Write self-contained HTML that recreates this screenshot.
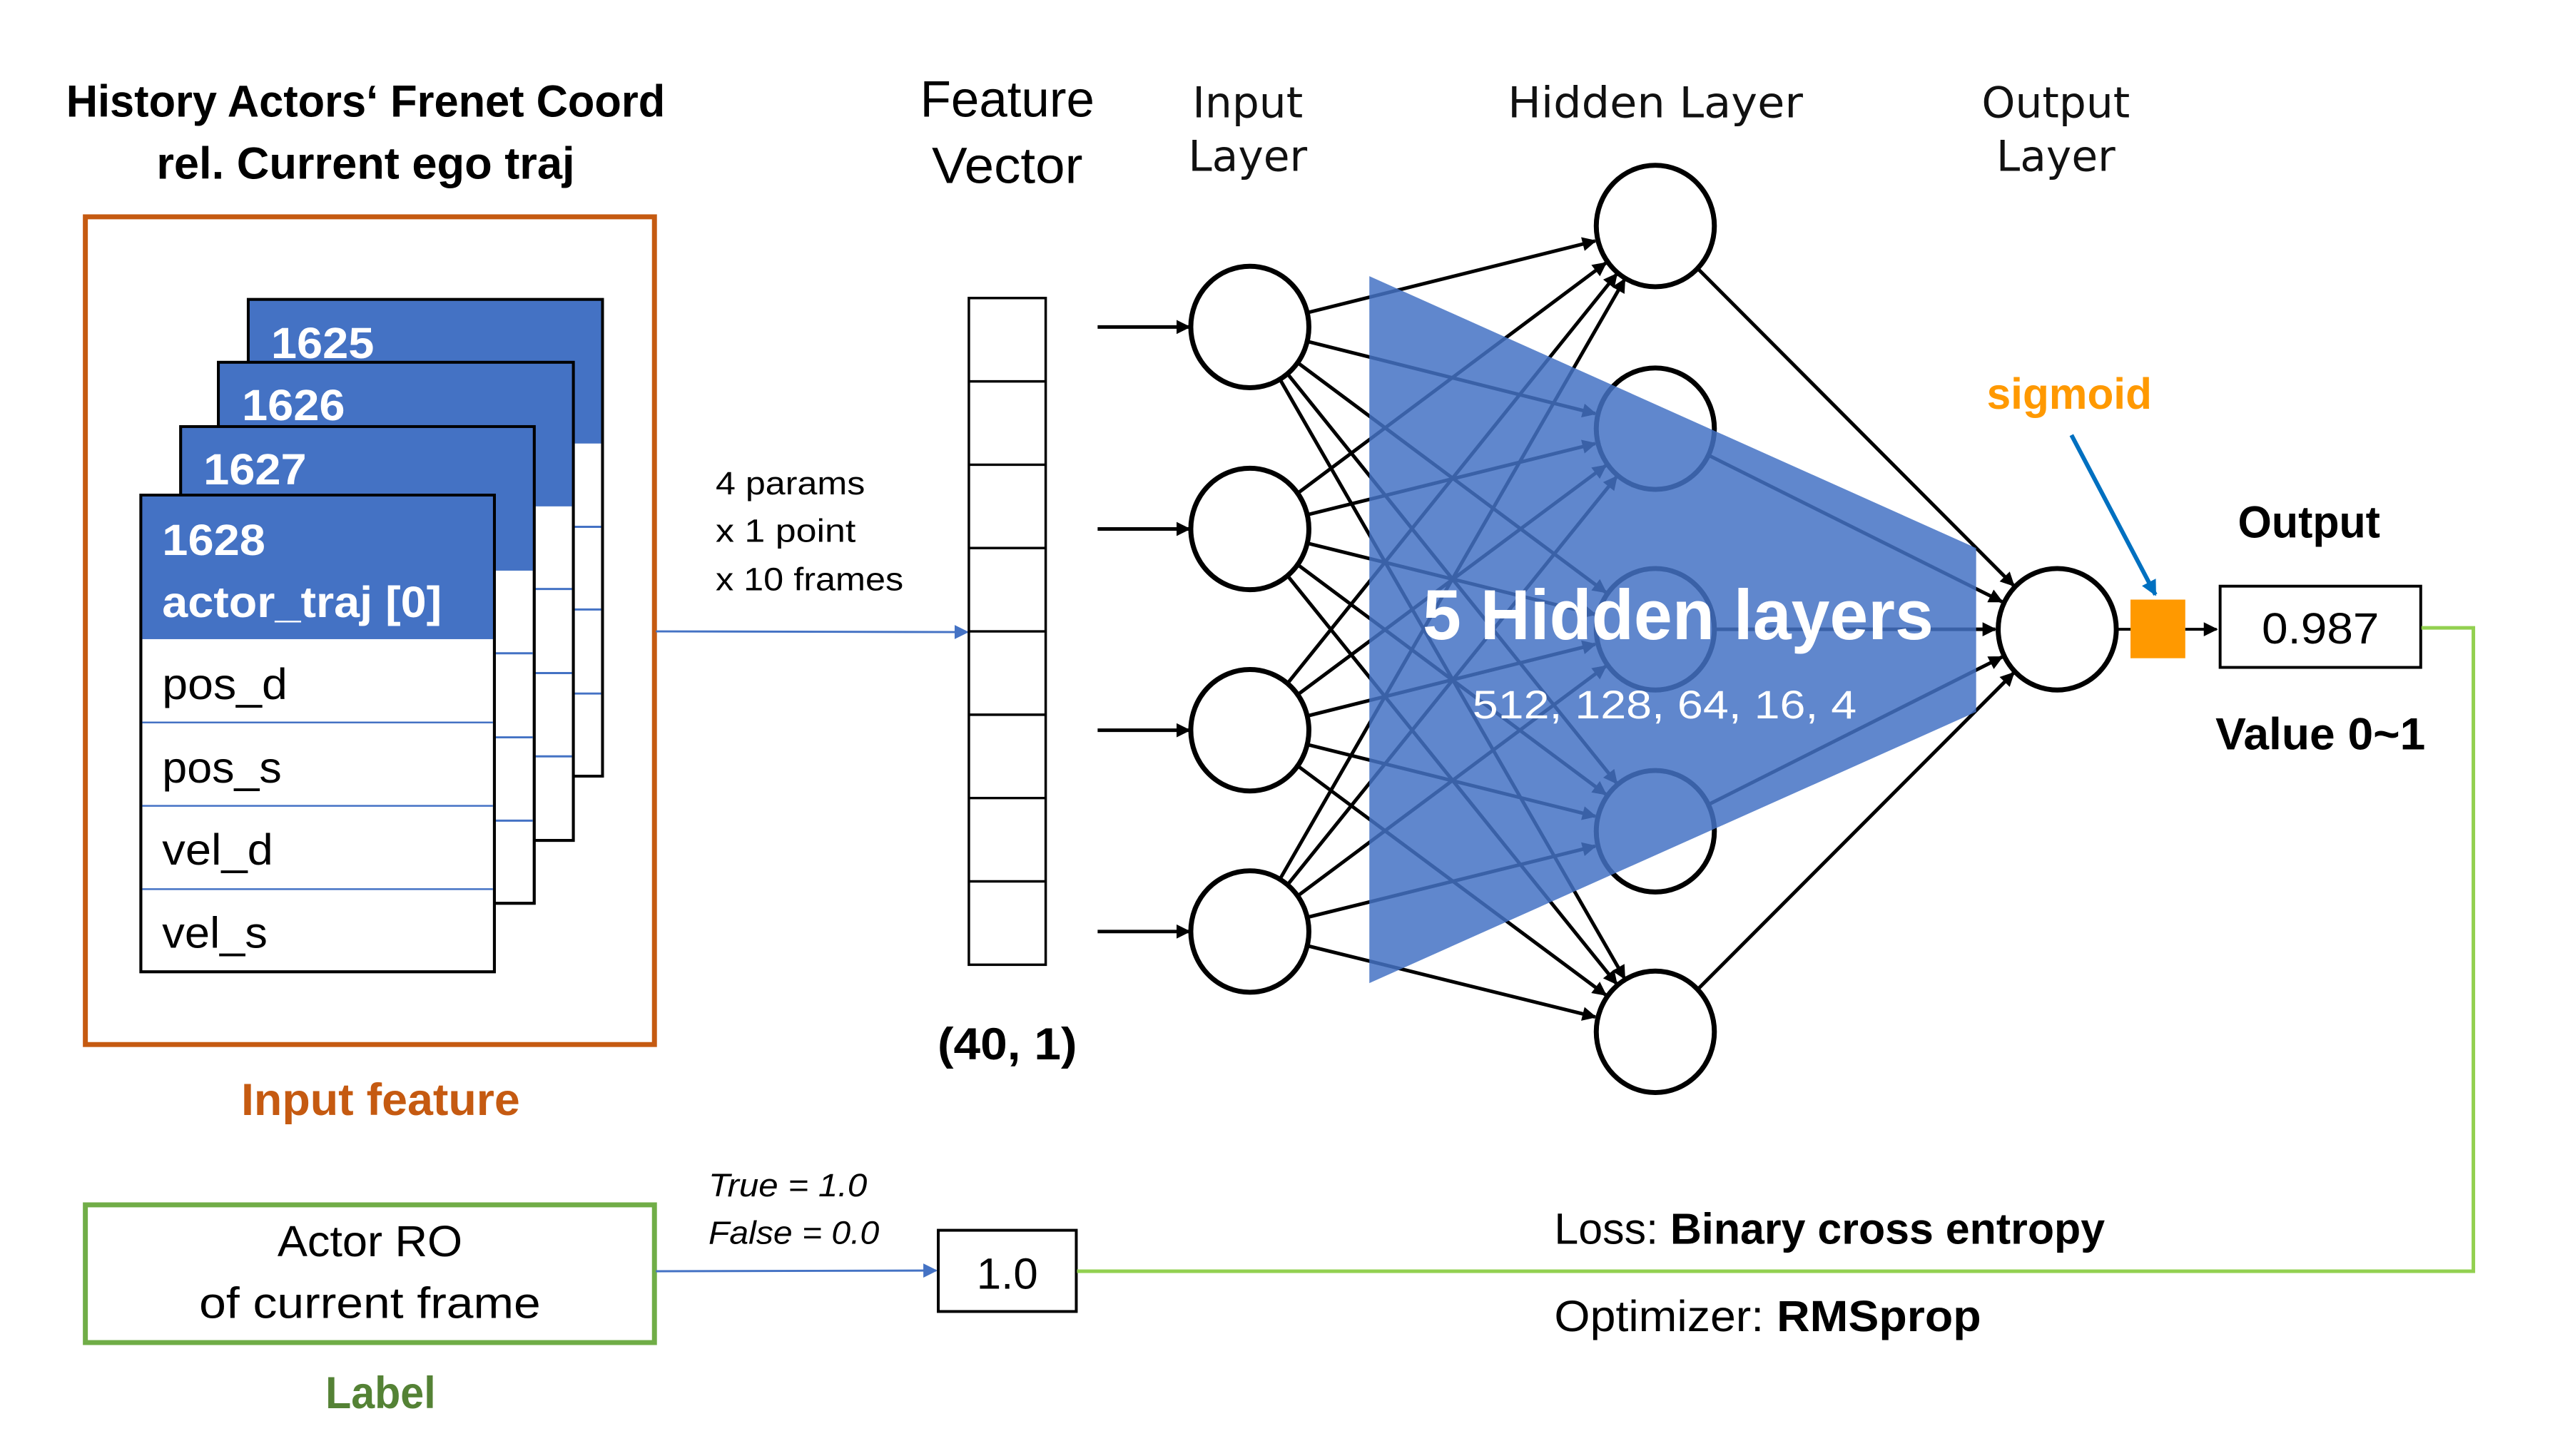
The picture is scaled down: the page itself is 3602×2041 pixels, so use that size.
<!DOCTYPE html>
<html><head><meta charset="utf-8"><style>
html,body{margin:0;padding:0;background:#fff;}
svg{display:block;}
text{font-family:"Liberation Sans",sans-serif;}
</style></head><body>
<svg id="s" width="3602" height="2041" viewBox="0 0 3602 2041" xmlns="http://www.w3.org/2000/svg">
<defs>
<marker id="abig" viewBox="0 0 10 10" refX="9" refY="5" markerWidth="24" markerHeight="20" orient="auto" markerUnits="userSpaceOnUse"><path d="M0,0 L10,5 L0,10 z" fill="#000"/></marker>
<marker id="ablue" viewBox="0 0 10 10" refX="9" refY="5" markerWidth="22" markerHeight="20" orient="auto" markerUnits="userSpaceOnUse"><path d="M0,0 L10,5 L0,10 z" fill="#4472C4"/></marker>
<marker id="adblue" viewBox="0 0 10 10" refX="9" refY="5" markerWidth="24" markerHeight="22" orient="auto" markerUnits="userSpaceOnUse"><path d="M0,0 L10,5 L0,10 z" fill="#0070C0"/></marker>
</defs>
<g transform="scale(0.997,0.99)">
<g font-weight="bold" font-size="64" text-anchor="middle" fill="#000">
<text x="514" y="165" textLength="842" lengthAdjust="spacingAndGlyphs">History Actors‘ Frenet Coord</text>
<text x="514" y="253" textLength="588" lengthAdjust="spacingAndGlyphs">rel. Current ego traj</text>
</g>

<rect x="120" y="307" width="800" height="1172" fill="none" stroke="#C55A11" stroke-width="7"/>

<g stroke="#000" stroke-width="4">
<rect x="349" y="424" width="498" height="675" fill="#fff"/>
<rect x="349" y="424" width="498" height="204" fill="#4472C4" stroke="none"/>
<rect x="349" y="424" width="498" height="675" fill="none"/>
</g>
<g stroke="#4472C4" stroke-width="3"><line x1="806" y1="746" x2="845" y2="746"/><line x1="806" y1="863" x2="845" y2="863"/><line x1="806" y1="982" x2="845" y2="982"/></g>
<g stroke="#000" stroke-width="4">
<rect x="307" y="513" width="499" height="677" fill="#fff"/>
<rect x="307" y="513" width="499" height="204" fill="#4472C4" stroke="none"/>
<rect x="307" y="513" width="499" height="677" fill="none"/>
</g>
<g stroke="#4472C4" stroke-width="3"><line x1="751" y1="834" x2="804" y2="834"/><line x1="751" y1="953" x2="804" y2="953"/><line x1="751" y1="1071" x2="804" y2="1071"/></g>
<g stroke="#000" stroke-width="4">
<rect x="254" y="604" width="497" height="675" fill="#fff"/>
<rect x="254" y="604" width="497" height="204" fill="#4472C4" stroke="none"/>
<rect x="254" y="604" width="497" height="675" fill="none"/>
</g>
<g stroke="#4472C4" stroke-width="3"><line x1="695" y1="925" x2="749" y2="925"/><line x1="695" y1="1044" x2="749" y2="1044"/><line x1="695" y1="1162" x2="749" y2="1162"/></g>
<g stroke="#000" stroke-width="4">
<rect x="198" y="701" width="497" height="675" fill="#fff"/>
<rect x="198" y="701" width="497" height="204" fill="#4472C4" stroke="none"/>
<rect x="198" y="701" width="497" height="675" fill="none"/>
</g>
<g stroke="#4472C4" stroke-width="2.5"><line x1="200" y1="1023" x2="693" y2="1023"/><line x1="200" y1="1141" x2="693" y2="1141"/><line x1="200" y1="1259" x2="693" y2="1259"/></g>
<g font-weight="bold" font-size="62" fill="#fff">
<text x="381" y="507" textLength="145" lengthAdjust="spacingAndGlyphs">1625</text>
<text x="340" y="595" textLength="145" lengthAdjust="spacingAndGlyphs">1626</text>
<text x="286" y="686" textLength="145" lengthAdjust="spacingAndGlyphs">1627</text>
<text x="228" y="786" textLength="145" lengthAdjust="spacingAndGlyphs">1628</text>
<text x="228" y="874" textLength="393" lengthAdjust="spacingAndGlyphs">actor_traj [0]</text>
</g>
<g font-size="62" fill="#000">
<text x="228" y="990" textLength="176" lengthAdjust="spacingAndGlyphs">pos_d</text>
<text x="228" y="1108" textLength="168" lengthAdjust="spacingAndGlyphs">pos_s</text>
<text x="228" y="1224" textLength="156" lengthAdjust="spacingAndGlyphs">vel_d</text>
<text x="228" y="1342" textLength="148" lengthAdjust="spacingAndGlyphs">vel_s</text>
</g>
<text x="535" y="1579" font-size="64" font-weight="bold" fill="#C55A11" text-anchor="middle" textLength="392" lengthAdjust="spacingAndGlyphs">Input feature</text>

<rect x="120" y="1706" width="800" height="195" fill="none" stroke="#70AD47" stroke-width="7"/>
<g font-size="62" text-anchor="middle" fill="#000">
<text x="520" y="1779" textLength="260" lengthAdjust="spacingAndGlyphs">Actor RO</text>
<text x="520" y="1866" textLength="480" lengthAdjust="spacingAndGlyphs">of current frame</text>
</g>
<text x="535" y="1994" font-size="64" font-weight="bold" fill="#548235" text-anchor="middle" textLength="155" lengthAdjust="spacingAndGlyphs">Label</text>

<line x1="922" y1="894" x2="1360" y2="895" stroke="#4472C4" stroke-width="3" marker-end="url(#ablue)"/>
<line x1="922" y1="1800" x2="1316" y2="1799" stroke="#4472C4" stroke-width="3" marker-end="url(#ablue)"/>
<g font-size="46" fill="#000">
<text x="1006" y="700" textLength="210" lengthAdjust="spacingAndGlyphs">4 params</text>
<text x="1006" y="767" textLength="197" lengthAdjust="spacingAndGlyphs">x 1 point</text>
<text x="1006" y="836" textLength="264" lengthAdjust="spacingAndGlyphs">x 10 frames</text>
<text x="996" y="1694" font-style="italic" textLength="223" lengthAdjust="spacingAndGlyphs">True = 1.0</text>
<text x="996" y="1761" font-style="italic" textLength="240" lengthAdjust="spacingAndGlyphs">False = 0.0</text>
</g>
<rect x="1319" y="1742" width="194" height="115" fill="#fff" stroke="#000" stroke-width="4"/>
<text x="1416" y="1825" font-size="62" text-anchor="middle">1.0</text>

<text x="1416" y="165" font-size="72" text-anchor="middle" textLength="245" lengthAdjust="spacingAndGlyphs">Feature</text>
<text x="1416" y="259" font-size="72" text-anchor="middle" textLength="212" lengthAdjust="spacingAndGlyphs">Vector</text>
<rect x="1362" y="422" width="108" height="944" fill="#fff" stroke="#000" stroke-width="3.5"/>
<g stroke="#000" stroke-width="3.5">
<line x1="1362" y1="540" x2="1470" y2="540"/><line x1="1362" y1="658" x2="1470" y2="658"/>
<line x1="1362" y1="776" x2="1470" y2="776"/><line x1="1362" y1="894" x2="1470" y2="894"/>
<line x1="1362" y1="1012" x2="1470" y2="1012"/><line x1="1362" y1="1130" x2="1470" y2="1130"/>
<line x1="1362" y1="1248" x2="1470" y2="1248"/>
</g>
<text x="1416" y="1500" font-size="64" font-weight="bold" text-anchor="middle" textLength="196" lengthAdjust="spacingAndGlyphs">(40, 1)</text>

<g font-size="60" text-anchor="middle" fill="#111">
<text x="1754" y="166" style="font-family:'DejaVu Sans',sans-serif">Input</text>
<text x="1754" y="242" style="font-family:'DejaVu Sans',sans-serif">Layer</text>
<text x="2327" y="166" style="font-family:'DejaVu Sans',sans-serif" textLength="415" lengthAdjust="spacingAndGlyphs">Hidden Layer</text>
<text x="2890" y="166" style="font-family:'DejaVu Sans',sans-serif">Output</text>
<text x="2890" y="242" style="font-family:'DejaVu Sans',sans-serif">Layer</text>
</g>

<g id="net"></g>

<polygon points="1925,391 2778,776 2778,1008 1925,1392" fill="#4472C4" fill-opacity="0.85"/>
<text x="2359" y="905" font-size="100" font-weight="bold" fill="#fff" text-anchor="middle" textLength="718" lengthAdjust="spacingAndGlyphs">5 Hidden layers</text>
<text x="2340" y="1017" font-size="56" fill="#fff" text-anchor="middle" textLength="540" lengthAdjust="spacingAndGlyphs">512, 128, 64, 16, 4</text>

<text x="2909" y="579" font-size="62" font-weight="bold" fill="#FF9900" text-anchor="middle" textLength="232" lengthAdjust="spacingAndGlyphs">sigmoid</text>
<line x1="2912" y1="616" x2="3030" y2="842" stroke="#0070C0" stroke-width="6" marker-end="url(#adblue)"/>
<line x1="2977" y1="891" x2="2996" y2="891" stroke="#000" stroke-width="4"/>
<rect x="2995" y="849" width="77" height="83" fill="#FF9900"/>
<line x1="3072" y1="891" x2="3116" y2="891" stroke="#000" stroke-width="4" marker-end="url(#abig)"/>
<rect x="3121" y="830" width="282" height="115" fill="#fff" stroke="#000" stroke-width="4"/>
<text x="3262" y="911" font-size="62" text-anchor="middle" textLength="165" lengthAdjust="spacingAndGlyphs">0.987</text>
<text x="3246" y="761" font-size="64" font-weight="bold" text-anchor="middle" textLength="200" lengthAdjust="spacingAndGlyphs">Output</text>
<text x="3262" y="1061" font-size="64" font-weight="bold" text-anchor="middle" textLength="295" lengthAdjust="spacingAndGlyphs">Value 0~1</text>

<polyline points="3404,889 3477,889 3477,1800 1514,1800" fill="none" stroke="#92D050" stroke-width="5"/>

<g font-size="62" fill="#000">
<text x="2185" y="1761" textLength="774" lengthAdjust="spacingAndGlyphs">Loss: <tspan font-weight="bold">Binary cross entropy</tspan></text>
<text x="2185" y="1885" textLength="600" lengthAdjust="spacingAndGlyphs">Optimizer: <tspan font-weight="bold">RMSprop</tspan></text>
</g>
</g>
</svg>
<script>
(function(){
var NS="http://www.w3.org/2000/svg", g=document.getElementById("net");
var R=83;
var inp=[[1757,463],[1757,749],[1757,1034],[1757,1319]];
var hid=[[2327,320],[2327,607],[2327,891],[2327,1177],[2327,1461]];
var out=[2892,891];
function ln(a,b,arrow){
 var dx=b[0]-a[0],dy=b[1]-a[1],d=Math.sqrt(dx*dx+dy*dy),ux=dx/d,uy=dy/d;
 var l=document.createElementNS(NS,"line");
 l.setAttribute("x1",a[0]+ux*R);l.setAttribute("y1",a[1]+uy*R);
 l.setAttribute("x2",b[0]-ux*(R+4));l.setAttribute("y2",b[1]-uy*(R+4));
 l.setAttribute("stroke","#000");l.setAttribute("stroke-width","5");
 if(arrow)l.setAttribute("marker-end","url(#abig)");
 g.appendChild(l);
}
inp.forEach(function(a){hid.forEach(function(b){ln(a,b,true);});});
hid.forEach(function(a){ln(a,out,true);});
inp.forEach(function(a){
 var l=document.createElementNS(NS,"line");
 l.setAttribute("x1",1543);l.setAttribute("y1",a[1]);l.setAttribute("x2",1672);l.setAttribute("y2",a[1]);
 l.setAttribute("stroke","#000");l.setAttribute("stroke-width","5");l.setAttribute("marker-end","url(#abig)");
 g.appendChild(l);
});
inp.concat(hid,[out]).forEach(function(c){
 var e=document.createElementNS(NS,"ellipse");
 e.setAttribute("cx",c[0]);e.setAttribute("cy",c[1]);e.setAttribute("rx",R);e.setAttribute("ry",R+3);
 e.setAttribute("fill","#fff");e.setAttribute("stroke","#000");e.setAttribute("stroke-width","7");
 g.appendChild(e);
});
})();
</script>
</body></html>
